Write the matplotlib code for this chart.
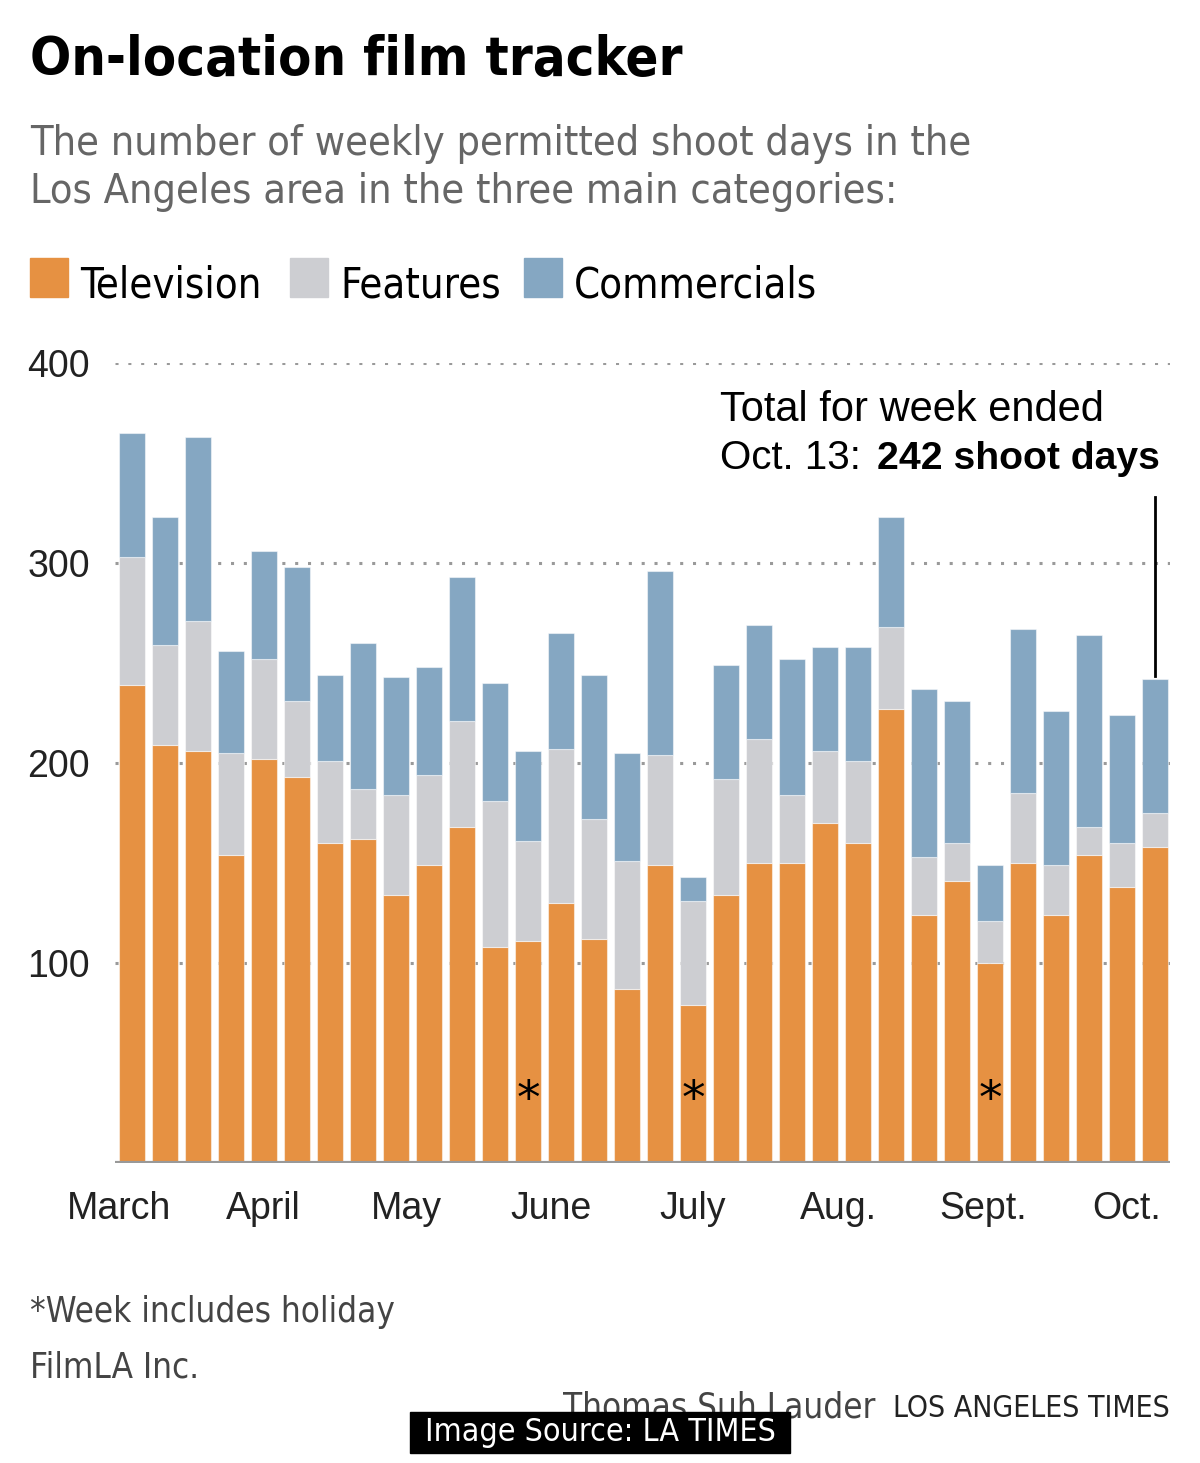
import numpy as np
import matplotlib.pyplot as plt

# weekly permitted shoot days, March - Oct. 13
television = [239, 209, 206, 154, 202, 193, 160, 162, 134, 149, 168, 108, 111, 130, 112, 87,
              149, 79, 134, 150, 150, 170, 160, 227, 124, 141, 100, 150, 124, 154, 138, 158]
features = [64, 50, 65, 51, 50, 38, 41, 25, 50, 45, 53, 73, 50, 77, 60, 64,
            55, 52, 58, 62, 34, 36, 41, 41, 29, 19, 21, 35, 25, 14, 22, 17]
commercials = [62, 64, 92, 51, 54, 67, 43, 73, 59, 54, 72, 59, 45, 58, 72, 54,
               92, 12, 57, 57, 68, 52, 57, 55, 84, 71, 28, 82, 77, 96, 64, 67]
holiday_weeks = [12, 17, 26]
months = ['March', 'April', 'May', 'June', 'July', 'Aug.', 'Sept.', 'Oct.']
month_pos = [-0.4, 3.97, 8.3, 12.7, 17.0, 21.4, 25.8, 30.15]

c_tv = '#E69142'
c_feat = '#CDCED2'
c_com = '#85A7C2'

COND = dict(family='DejaVu Sans', stretch='condensed')
REG = ['Liberation Sans', 'DejaVu Sans']

W, H = 1200, 1463
fig = plt.figure(figsize=(W / 100, H / 100), dpi=100)

def fy(py):
    return 1 - py / H

def fx(px):
    return px / W

ax = fig.add_axes([fx(115), fy(1163), 1055 / W, 800 / H])

x = np.arange(len(television))
tv = np.array(television)
ft = np.array(features)
cm = np.array(commercials)
ec = (1, 1, 1, 0.5)
ax.bar(x, tv, width=0.79, color=c_tv, edgecolor=ec, linewidth=0.8, zorder=3)
ax.bar(x, ft, width=0.79, bottom=tv, color=c_feat, edgecolor=ec, linewidth=0.8, zorder=3)
ax.bar(x, cm, width=0.79, bottom=tv + ft, color=c_com, edgecolor=ec, linewidth=0.8, zorder=3)

for i in holiday_weeks:
    ax.text(i, 25, '*', ha='center', va='baseline', fontsize=34,
            family='DejaVu Sans', zorder=4)

ax.set_xlim(-0.515, 31.45)
ax.set_ylim(0, 400)
for v in [100, 200, 300, 400]:
    ax.axhline(v, color='#9a9a9a', linestyle=(0, (1, 3.2)), linewidth=2.2, zorder=1)
ax.axhline(0, color='#999999', linewidth=3, zorder=5)

for s in ax.spines.values():
    s.set_visible(False)
ax.set_yticks([100, 200, 300, 400])
ax.set_yticklabels(['100', '200', '300', '400'], family=REG, fontsize=27, color='#222222')
ax.set_xticks(month_pos)
ax.set_xticklabels(months, family=REG, fontsize=27, color='#222222')
ax.tick_params(axis='both', length=0)
ax.tick_params(axis='y', pad=18)
ax.tick_params(axis='x', pad=20)

# annotation
fig.text(fx(720), fy(421), 'Total for week ended', family=REG, fontsize=30,
         va='baseline', ha='left')
fig.text(fx(720), fy(469), 'Oct. 13:', family=REG, fontsize=29, va='baseline', ha='left')
fig.text(fx(1160), fy(469), '242 shoot days', family=REG, fontsize=28.2, weight='bold',
         va='baseline', ha='right')
ax.plot([31, 31], [243.5, 333], color='black', linewidth=2, zorder=4)

# header
fig.text(fx(30), fy(75), 'On-location film tracker', weight='bold',
         fontsize=39, va='baseline', ha='left', color='black', **COND)
fig.text(fx(30), fy(155), 'The number of weekly permitted shoot days in the',
         fontsize=29.7, va='baseline', ha='left', color='#666666', **COND)
fig.text(fx(30), fy(203), 'Los Angeles area in the three main categories:',
         fontsize=29.7, va='baseline', ha='left', color='#666666', **COND)

# legend
legend_items = [('Television', c_tv, 30), ('Features', c_feat, 290), ('Commercials', c_com, 524)]
for label, col, px in legend_items:
    fig.patches.append(plt.Rectangle((fx(px), fy(297)), 38 / W, 39 / H,
                                     transform=fig.transFigure, color=col))
    fig.text(fx(px + 50), fy(297), label, fontsize=30,
             va='baseline', ha='left', color='black', **COND)

# footer
fig.text(fx(30), fy(1322), '*Week includes holiday', fontsize=25,
         va='baseline', ha='left', color='#444444', **COND)
fig.text(fx(30), fy(1377), 'FilmLA Inc.', fontsize=25,
         va='baseline', ha='left', color='#444444', **COND)
fig.text(fx(875), fy(1417), 'Thomas Suh Lauder', fontsize=25,
         va='baseline', ha='right', color='#444444', **COND)
fig.text(fx(1170), fy(1417), 'LOS ANGELES TIMES', fontsize=21.6,
         va='baseline', ha='right', color='#222222', **COND)
fig.patches.append(plt.Rectangle((fx(410), fy(1453)), 380 / W, 41 / H,
                                 transform=fig.transFigure, color='black', zorder=10))
fig.text(fx(600), fy(1433), 'Image Source: LA TIMES', fontsize=23,
         va='center', ha='center', color='white', zorder=11, **COND)

fig.savefig('out.png', dpi=100, facecolor='white')
